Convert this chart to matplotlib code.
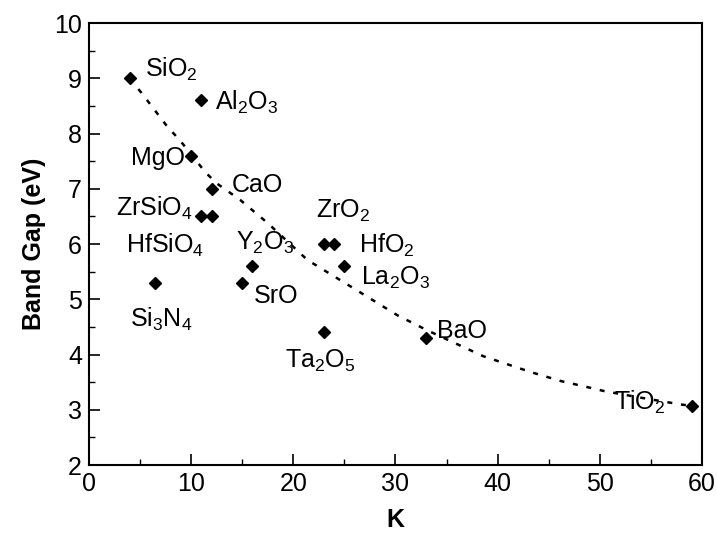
import matplotlib.pyplot as plt
from matplotlib.ticker import MultipleLocator

plt.rcParams['font.family'] = ['Liberation Sans', 'DejaVu Sans']
plt.rcParams['mathtext.default'] = 'regular'

# dielectric constant K and band gap (eV) of each oxide
materials = ['SiO2', 'Al2O3', 'MgO', 'CaO', 'ZrSiO4', 'ZrSiO4b', 'Si3N4',
             'Y2O3', 'SrO', 'ZrO2', 'HfO2', 'La2O3', 'Ta2O5', 'BaO', 'TiO2']
k_vals = [4, 11, 10, 12, 11, 12, 6.5, 16, 15, 23, 24, 25, 23, 33, 59]
gap_vals = [9.0, 8.6, 7.6, 7.0, 6.5, 6.5, 5.3, 5.6, 5.3, 6.0, 6.0, 5.6, 4.4, 4.3, 3.07]

# dotted trend line
trend_k = [4, 5.3, 7.7, 8.9, 11.4, 12.5, 14.8, 17.5, 21.4, 25.9, 30.2, 33.1,
           38.6, 43.3, 46.2, 48.8, 50.4, 54, 57.8, 59]
trend_gap = [9.0, 8.70, 8.12, 7.88, 7.30, 7.10, 6.80, 6.38, 5.71, 5.20, 4.71, 4.44,
             3.97, 3.68, 3.52, 3.41, 3.34, 3.22, 3.10, 3.07]

# label text and where it sits (K, gap, alignment)
labels = [
    ('SiO$_2$', 5.5, 9.02, 'left'),
    ('Al$_2$O$_3$', 12.3, 8.43, 'left'),
    ('MgO', 9.4, 7.43, 'right'),
    ('CaO', 14.0, 6.94, 'left'),
    ('ZrSiO$_4$', 10.2, 6.52, 'right'),
    ('HfSiO$_4$', 3.6, 5.84, 'left'),
    ('Y$_2$O$_3$', 14.4, 5.89, 'left'),
    ('ZrO$_2$', 22.2, 6.47, 'left'),
    ('HfO$_2$', 26.4, 5.84, 'left'),
    ('La$_2$O$_3$', 26.6, 5.26, 'left'),
    ('SrO', 16.1, 4.93, 'left'),
    ('Ta$_2$O$_5$', 19.2, 3.76, 'left'),
    ('BaO', 34.1, 4.30, 'left'),
    ('Si$_3$N$_4$', 4.0, 4.50, 'left'),
    ('TiO$_2$', 51.4, 3.00, 'left'),
]

fig = plt.figure(figsize=(7.17, 5.37), dpi=100)
ax = fig.add_axes([0.124, 0.134, 0.855, 0.823])

ax.plot(trend_k, trend_gap, color='black', linewidth=1.8,
        linestyle=(0, (2.0, 3.5)), dash_capstyle='butt')
ax.plot(k_vals, gap_vals, linestyle='none', marker='D', markersize=6,
        color='black')

for text, x, y, ha in labels:
    ax.text(x, y, text, ha=ha, va='baseline', fontsize=18)

ax.set_xlim(0, 60)
ax.set_ylim(2, 10)
ax.xaxis.set_major_locator(MultipleLocator(10))
ax.xaxis.set_minor_locator(MultipleLocator(5))
ax.yaxis.set_major_locator(MultipleLocator(1))
ax.yaxis.set_minor_locator(MultipleLocator(0.5))
ax.tick_params(which='major', direction='in', length=8, width=1.2,
               labelsize=18, pad=5)
ax.tick_params(which='minor', direction='in', length=4, width=1.0)
for s in ax.spines.values():
    s.set_linewidth(1.5)

ax.set_xlabel('K', fontsize=18, fontweight='bold', labelpad=9)
ax.set_ylabel('Band Gap (eV)', fontsize=18, fontweight='bold', labelpad=6)

plt.savefig('out.png', dpi=100)
